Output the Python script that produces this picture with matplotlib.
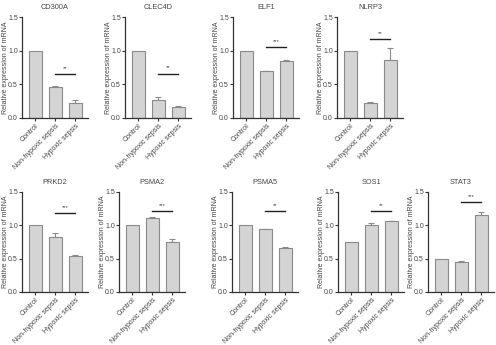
import matplotlib
matplotlib.use("Agg")
import matplotlib.pyplot as plt

plt.rcParams["font.family"] = ["Liberation Sans", "DejaVu Sans"]

groups = ["Control", "Non-hypoxic sepsis", "Hypoxic sepsis"]

genes = ["CD300A", "CLEC4D", "ELF1", "NLRP3",
         "PRKD2", "PSMA2", "PSMA5", "SOS1", "STAT3"]

means = [
    [1.00, 0.46, 0.23],
    [1.00, 0.26, 0.17],
    [1.00, 0.70, 0.85],
    [1.00, 0.23, 0.86],
    [1.00, 0.82, 0.54],
    [1.00, 1.11, 0.75],
    [1.00, 0.94, 0.66],
    [0.75, 1.01, 1.06],
    [0.49, 0.45, 1.16],
]
errors = [
    [0.00, 0.01, 0.04],
    [0.00, 0.05, 0.01],
    [0.00, 0.005, 0.01],
    [0.00, 0.01, 0.185],
    [0.00, 0.07, 0.02],
    [0.00, 0.01, 0.04],
    [0.00, 0.01, 0.02],
    [0.00, 0.02, 0.01],
    [0.00, 0.01, 0.04],
]
sig_marks = ["**", "**", "***", "**", "***", "***", "**", "**", "***"]
sig_heights = [0.65, 0.66, 1.05, 1.17, 1.185, 1.215, 1.21, 1.21, 1.35]

# panel positions in pixels (left of y-axis, top, bottom)
W, H = 496, 345
panel_px = [
    (22, 17, 118), (125, 17, 118), (233, 17, 118), (337, 17, 118),
    (22, 192, 292), (119, 192, 292), (232, 192, 292), (338, 192, 292), (428, 192, 292),
]
AX_W = 66

TXT = "#444444"
FS = 5.0
fig = plt.figure(figsize=(W / 100, H / 100), dpi=100)
fig.patch.set_facecolor("white")

for i, gene in enumerate(genes):
    x0, ytop, ybot = panel_px[i]
    ax = fig.add_axes([x0 / W, 1 - ybot / H, AX_W / W, (ybot - ytop) / H])
    xs = list(range(len(groups)))
    ax.bar(xs, means[i], width=0.65, color="#d4d4d4", edgecolor="#8a8a8a",
           linewidth=0.8, zorder=2)
    for x, m, e in zip(xs, means[i], errors[i]):
        if e > 0:
            ax.errorbar(x, m, yerr=[[0], [e]], color="#8a8a8a", capsize=2.2,
                        elinewidth=0.8, capthick=0.8, zorder=1)
    # significance bar between groups 2 and 3
    ax.plot([1, 2], [sig_heights[i], sig_heights[i]], color="#222222", lw=1.0)
    ax.text(1.5, sig_heights[i] + 0.05, sig_marks[i], ha="center", va="bottom",
            fontsize=4.2, color=TXT)

    ax.set_xlim(-0.68, 2.65)
    ax.set_ylim(0, 1.5)
    ax.set_yticks([0, 0.5, 1.0, 1.5])
    ax.set_yticklabels(["0.0", "0.5", "1.0", "1.5"])
    ax.set_xticks(xs)
    ax.set_xticklabels(groups, rotation=45, ha="right", rotation_mode="anchor")
    ax.tick_params(axis="both", labelsize=FS, colors="#333333", length=2,
                   width=0.8, pad=1.0, labelcolor=TXT)
    for s in ["top", "right"]:
        ax.spines[s].set_visible(False)
    for s in ["left", "bottom"]:
        ax.spines[s].set_linewidth(0.9)
        ax.spines[s].set_color("#333333")
    ax.set_ylabel("Relative expression of mRNA", fontsize=FS, color=TXT)
    ax.yaxis.set_label_coords(-0.195, 0.5)
    ax.set_title(gene, fontsize=FS + 0.3, color=TXT, pad=6)

fig.savefig("out.png", dpi=100, facecolor="white")
